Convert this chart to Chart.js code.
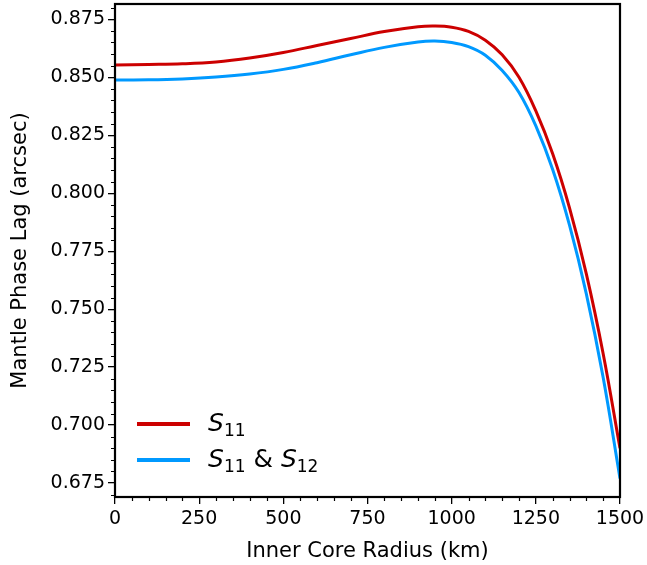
<!DOCTYPE html>
<html>
<head>
<meta charset="utf-8">
<script src="https://cdn.jsdelivr.net/npm/chart.js@4"></script>
<style>
  html, body { margin: 0; padding: 0; background: #fff; }
  #wrap { position: relative; width: 647px; height: 565px; }
  #legend { position: absolute; left: 137px; top: 406px; font-family: "DejaVu Sans", sans-serif; font-size: 25px; color: #000; }
  .item { display: flex; align-items: center; height: 36px; }
  .swatch { width: 53px; height: 4px; margin-right: 18px; }
  .item sub { font-size: 17px; vertical-align: -5px; }
</style>
</head>
<body>
<div id="wrap">
  <canvas id="chart" width="647" height="565"></canvas>
  <div id="legend"></div>
</div>
<script>
// Werte
const radius = [0, 100, 200, 300, 400, 500, 600, 700, 800, 900, 950, 1000, 1050, 1100, 1150, 1200, 1250, 1300, 1350, 1400, 1450, 1500];
const lagS11 = [0.8553, 0.8555, 0.8558, 0.8566, 0.8583, 0.8607, 0.8637, 0.8667, 0.8697, 0.8718, 0.8721, 0.8716, 0.8698, 0.8660, 0.8597, 0.8500, 0.8355, 0.8170, 0.7937, 0.7652, 0.7308, 0.6900];
const lagS11S12 = [0.8488, 0.8489, 0.8493, 0.8501, 0.8514, 0.8534, 0.8563, 0.8597, 0.8629, 0.8652, 0.8656, 0.8650, 0.8632, 0.8595, 0.8529, 0.8434, 0.8290, 0.8102, 0.7862, 0.7566, 0.7205, 0.6770];
const xTicks = [0, 250, 500, 750, 1000, 1250, 1500];
const yTicks = [0.675, 0.700, 0.725, 0.750, 0.775, 0.800, 0.825, 0.850, 0.875];

const red = 'rgb(204, 0, 0)';
const blue = 'rgb(0, 153, 255)';

// Rahmen + kleine Ticks
const framePlugin = {
    id: 'frame',
    afterDraw(chart) {
        const ctx = chart.ctx;
        const a = chart.chartArea;
        const xs = chart.scales.x;
        const ys = chart.scales.y;
        ctx.save();
        ctx.strokeStyle = '#000';
        ctx.lineWidth = 1.2;
        ctx.beginPath();
        for (let v = 0; v <= 1500; v += 50) {
            if (v % 250 === 0) continue;
            const px = Math.round(xs.getPixelForValue(v)) + 0.5;
            ctx.moveTo(px, a.bottom);
            ctx.lineTo(px, a.bottom + 4);
        }
        for (let i = 134; i <= 176; i++) {
            if (i % 5 === 0) continue;
            const py = Math.round(ys.getPixelForValue(i * 0.005)) + 0.5;
            ctx.moveTo(a.left, py);
            ctx.lineTo(a.left - 4, py);
        }
        ctx.stroke();
        ctx.lineWidth = 2.2;
        ctx.strokeRect(a.left, a.top, a.right - a.left, a.bottom - a.top);
        ctx.restore();
    }
};

const chart = new Chart(document.getElementById('chart').getContext('2d'), {
    type: 'line',
    data: {
        labels: radius,
        datasets: [
            {
                label: 'S11',
                data: radius.map((r, i) => ({ x: r, y: lagS11[i] })),
                borderColor: red,
                borderWidth: 3,
                pointRadius: 0,
                tension: 0.4
            },
            {
                label: 'S11 & S12',
                data: radius.map((r, i) => ({ x: r, y: lagS11S12[i] })),
                borderColor: blue,
                borderWidth: 3,
                pointRadius: 0,
                tension: 0.4
            }
        ]
    },
    options: {
        responsive: false,
        animation: false,
        layout: { padding: { top: 4, right: 27, left: 0, bottom: 0 } },
        plugins: {
            legend: { display: false },
            tooltip: { enabled: false }
        },
        scales: {
            x: {
                type: 'linear',
                min: 0,
                max: 1500,
                afterBuildTicks: axis => { axis.ticks = xTicks.map(v => ({ value: v })); },
                afterFit: axis => { axis.height = 68; axis.paddingLeft = 0; axis.paddingRight = 0; },
                grid: { drawOnChartArea: false, color: '#000', tickLength: 7, lineWidth: 1.3 },
                border: { color: '#000', width: 2 },
                ticks: {
                    color: '#000',
                    padding: 4,
                    maxRotation: 0,
                    font: { family: 'DejaVu Sans', size: 19 },
                    callback: v => String(v)
                },
                title: {
                    display: true,
                    text: 'Inner Core Radius (km)',
                    color: '#000',
                    font: { family: 'DejaVu Sans', size: 21 },
                    padding: { top: 0, bottom: 1 }
                }
            },
            y: {
                min: 0.669,
                max: 0.8816,
                afterBuildTicks: axis => { axis.ticks = yTicks.map(v => ({ value: v })); },
                afterFit: axis => { axis.width = 115; axis.paddingTop = 0; axis.paddingBottom = 0; },
                grid: { drawOnChartArea: false, color: '#000', tickLength: 7, lineWidth: 1.3 },
                border: { color: '#000', width: 2 },
                ticks: {
                    color: '#000',
                    padding: 3,
                    font: { family: 'DejaVu Sans', size: 19 },
                    callback: v => v.toFixed(3)
                },
                title: {
                    display: true,
                    text: 'Mantle Phase Lag (arcsec)',
                    color: '#000',
                    font: { family: 'DejaVu Sans', size: 21 },
                    padding: { top: 8, bottom: 0 }
                }
            }
        }
    },
    plugins: [framePlugin]
});

// HTML-Legende mit echten Subskripten
const legendNames = ['<i>S</i><sub>11</sub>', '<i>S</i><sub>11</sub> &amp; <i>S</i><sub>12</sub>'];
const legendEl = document.getElementById('legend');
chart.data.datasets.forEach((ds, i) => {
    const row = document.createElement('div');
    row.className = 'item';
    row.innerHTML = '<span class="swatch" style="background:' + ds.borderColor + '"></span><span>' + legendNames[i] + '</span>';
    legendEl.appendChild(row);
});
</script>
</body>
</html>
